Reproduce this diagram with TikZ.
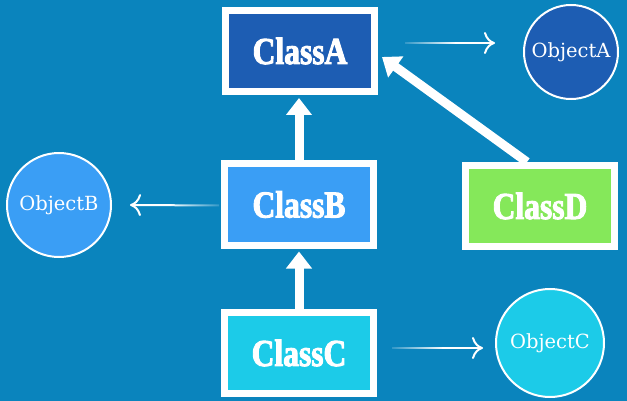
\documentclass[tikz,border=0pt]{standalone}
\usepackage{fontspec}
\usetikzlibrary{arrows.meta,fadings}
\newfontfamily\clsfont{Liberation Serif}[BoldFont={Liberation Serif Bold},BoldFeatures={FakeStretch=0.83,FakeBold=2.5}]
\newfontfamily\objfont{DejaVu Serif}
\definecolor{bg}{HTML}{0A84BD}
\definecolor{cA}{HTML}{1D5DB3}
\definecolor{cB}{HTML}{3A9EF5}
\definecolor{cC}{HTML}{1CCBE8}
\definecolor{cD}{HTML}{85E85A}
\tikzfading[name=fadeinright, left color=transparent!85, right color=transparent!0]
\tikzfading[name=fadeinleft, left color=transparent!0, right color=transparent!85]
\begin{document}
\begin{tikzpicture}[x=1pt,y=-1pt,
  clsbox/.style={draw=white, line width=7pt, minimum width=149pt, minimum height=81pt,
    inner sep=0pt, text=white, font=\clsfont\bfseries\fontsize{38}{38}\selectfont},
  objcirc/.style={circle, draw=white, line width=2pt, inner sep=0pt, text=white,
    font=\objfont\fontsize{19.5}{19.5}\selectfont},
  thinline/.style={draw=white, line width=2pt},
  thintip/.style={draw=white, line width=2pt, -{Computer Modern Rightarrow[length=11pt,width=22pt,line width=2pt]}},
  thick/.style={draw=white, line width=9pt, -{Triangle[length=17pt,width=25pt]}, shorten >=3pt}
]
\fill[bg] (0,0) rectangle (627,401);
\useasboundingbox (0,0) rectangle (627,401);

\node[clsbox, fill=cA] (A) at (300,51) {ClassA};
\node[clsbox, fill=cB] (B) at (299,204.5) {ClassB};
\node[clsbox, fill=cC] (C) at (299,353) {ClassC};
\node[clsbox, fill=cD] (D) at (540,206) {ClassD};

\node[objcirc, fill=cA, minimum size=94pt] (OA) at (571,52) {ObjectA};
\node[objcirc, fill=cB, minimum size=104pt] (OB) at (59,205) {ObjectB};
\node[objcirc, fill=cC, minimum size=108pt] (OC) at (550,343) {ObjectC};

% thin arrows: faded shaft + solid tip
\coordinate (a1) at ([xshift=27pt,yshift=8pt]A.east);
\coordinate (a2) at ([xshift=-28pt,yshift=9pt]OA.west);
\coordinate (b1) at ([xshift=-2pt,yshift=-1pt]B.west);
\coordinate (b2) at ([xshift=18pt]OB.east);
\coordinate (c1) at ([xshift=15pt,yshift=5pt]C.east);
\coordinate (c2) at ([xshift=-12pt,yshift=-5pt]OC.west);
\path (a1) -- (a2) coordinate[pos=0.55] (am);
\path (b1) -- (b2) coordinate[pos=0.55] (bm);
\path (c1) -- (c2) coordinate[pos=0.55] (cm);
\draw[thinline, path fading=fadeinright] (a1) -- (am);
\draw[thintip] (am) -- (a2);
\draw[thinline, path fading=fadeinleft] (b1) -- (bm);
\draw[thintip] (bm) -- (b2);
\draw[thinline, path fading=fadeinright] (c1) -- (cm);
\draw[thintip] (cm) -- (c2);

\draw[thick] (B.north) -- (B.north |- A.south);
\draw[thick] (C.north) -- (C.north |- B.south);
\draw[thick, shorten >=0pt] ([xshift=-13pt]D.north) -- ([xshift=4pt,yshift=-6pt]A.east);
\end{tikzpicture}
\end{document}
